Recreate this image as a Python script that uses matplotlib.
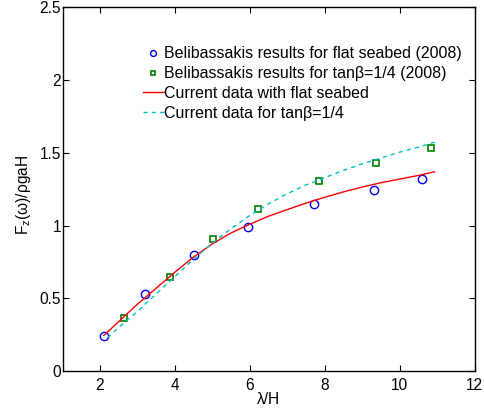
import numpy as np
import matplotlib
matplotlib.use('Agg')
import matplotlib.pyplot as plt

plt.rcParams['font.family'] = ['Liberation Sans', 'DejaVu Sans']
plt.rcParams['mathtext.fontset'] = 'custom'
plt.rcParams['mathtext.rm'] = 'Liberation Sans'

# Belibassakis (2008) reference points
flat_x = [2.10, 3.20, 4.50, 5.95, 7.70, 9.32, 10.58]
flat_y = [0.243, 0.532, 0.796, 0.991, 1.145, 1.246, 1.317]
slope_x = [2.65, 3.87, 5.01, 6.22, 7.85, 9.37, 10.84]
slope_y = [0.364, 0.643, 0.906, 1.112, 1.308, 1.427, 1.530]

# current computations
cur_flat_x = [2.1, 2.5, 3.0, 3.5, 4.0, 4.5, 5.0, 5.5, 6.0, 6.5, 7.0, 7.5, 8.0, 8.5, 9.0, 9.5, 10.0, 10.5, 10.93]
cur_flat_y = [0.245, 0.34, 0.46, 0.57, 0.68, 0.785, 0.875, 0.95, 1.01, 1.065, 1.11, 1.155, 1.195, 1.232, 1.265, 1.295, 1.32, 1.345, 1.37]
cur_slope_x = [2.2, 2.5, 3.0, 3.5, 4.0, 4.5, 5.0, 5.5, 6.0, 6.5, 7.0, 7.5, 8.0, 8.5, 9.0, 9.5, 10.0, 10.5, 10.93]
cur_slope_y = [0.23, 0.30, 0.41, 0.53, 0.65, 0.77, 0.88, 0.98, 1.07, 1.15, 1.22, 1.28, 1.33, 1.38, 1.425, 1.465, 1.505, 1.54, 1.574]

fig = plt.figure(figsize=(4.85, 4.12), dpi=100)
ax = fig.add_axes([0.129, 0.0995, 0.85, 0.8825])

ax.plot(flat_x, flat_y, 'o', mfc='none', mec=(0, 0, 1), ms=6, mew=1.0,
        label='Belibassakis results for flat seabed (2008)')
ax.plot(slope_x, slope_y, 's', mfc='none', mec=(0, 0.5, 0), ms=4.5, mew=1.2,
        label='Belibassakis results for tan\u03b2=1/4 (2008)')
ax.plot(cur_flat_x, cur_flat_y, '-', color=(1, 0, 0), lw=1.0,
        label='Current data with flat seabed')
ax.plot(cur_slope_x, cur_slope_y, '--', color=(0, 0.75, 0.75), lw=1.0,
        dashes=(3, 3), label='Current data for tan\u03b2=1/4')

ax.set_xlim(1, 12)
ax.set_ylim(0, 2.5)
ax.set_xticks([2, 4, 6, 8, 10, 12])
ax.set_yticks([0, 0.5, 1, 1.5, 2, 2.5])
ax.set_yticklabels(['0', '0.5', '1', '1.5', '2', '2.5'])
ax.tick_params(direction='in', top=True, right=True, length=4, width=0.8,
               labelsize=11.2)
ax.tick_params(axis='x', pad=5)
ax.tick_params(axis='y', pad=1.2)
for s in ax.spines.values():
    s.set_linewidth(1.0)

ax.set_xlabel('\u03bb/H', fontsize=11.2, labelpad=-1)
ax.set_ylabel('F$_\\mathrm{z}$(\u03c9)/\u03c1gaH', fontsize=11.2)
ax.yaxis.set_label_coords(-0.072, 0.485)

ax.legend(loc='upper left', bbox_to_anchor=(0.175, 0.915), frameon=False,
          fontsize=11.5, handlelength=1.35, handletextpad=0.0,
          labelspacing=0.3, borderpad=0, markerscale=0.7)

fig.savefig('out.png', dpi=100)
